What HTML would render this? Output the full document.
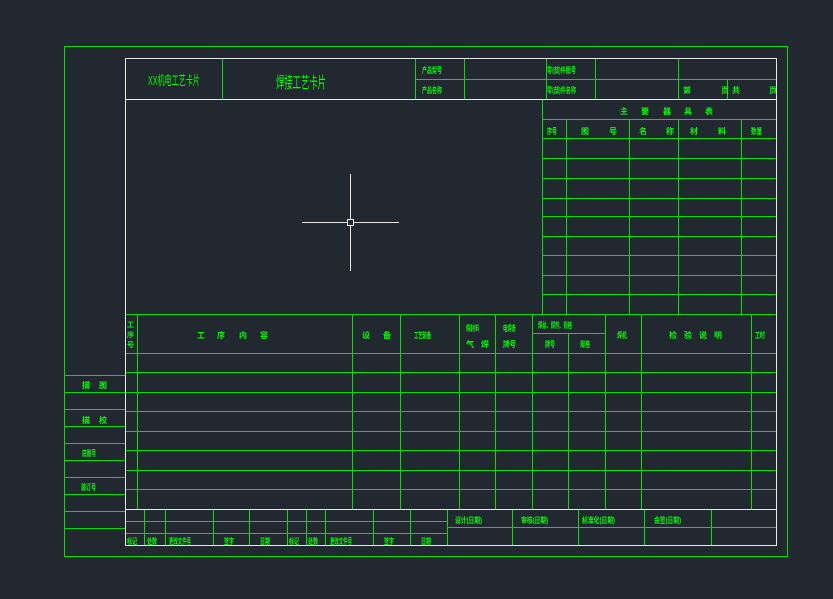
<!DOCTYPE html>
<html><head><meta charset="utf-8"><style>
html,body{margin:0;padding:0;background:#212830;}
svg{display:block}
text{font-family:"Liberation Sans","Noto Sans CJK SC",sans-serif;fill:#00ff00;font-size:8px;font-weight:bold}
</style></head><body>
<svg width="833" height="599" viewBox="0 0 833 599" xmlns="http://www.w3.org/2000/svg">
<rect width="833" height="599" fill="#212830"/>
<g stroke="#00e000" stroke-width="1" fill="none" shape-rendering="crispEdges">
<rect x="64.5" y="46.5" width="723" height="510"/>
<!-- header -->
<path d="M222.5 58V99M415.5 58V99M464.5 58V99M546.5 58V99M595.5 58V99M678.5 58V99M727.5 79V99M415 79.5H776"/>
<!-- right table -->
<path d="M542.5 99V314M542 119.5H776M542 138.5H776M542 158.5H776M542 178.5H776M542 198.5H776M542 216.5H776M542 236.5H776M542 255.5H776M542 275.5H776M542 294.5H776"/>
<path d="M566.5 119V314M629.5 119V314M678.5 119V314M741.5 119V314"/>
<!-- lower table -->
<path d="M125 314.5H776M125 353.5H776M125 372.5H776M125 392.5H776M125 411.5H776M125 431.5H776M125 450.5H776M125 470.5H776M125 489.5H776M532 333.5H605"/>
<path d="M137.5 314V509M352.5 314V509M400.5 314V509M459.5 314V509M495.5 314V509M532.5 314V509M568.5 333V509M605.5 314V509M641.5 314V509M751.5 314V509"/>
<!-- bottom block -->
<path d="M125 521.5H447M125 533.5H447M447 527.5H776"/>
<path d="M144.5 509V545M165.5 509V545M213.5 509V545M249.5 509V545M287.5 509V545M306.5 509V545M325.5 509V545M373.5 509V545M410.5 509V545M447.5 509V545M512.5 509V545M578.5 509V545M644.5 509V545M711.5 509V545"/>
<!-- left strip -->
<path d="M64 375.5H125M64 392.5H125M64 409.5H125M64 426.5H125M64 443.5H125M64 460.5H125M64 477.5H125M64 494.5H125M64 511.5H125M64 528.5H125"/>
</g>
<g stroke="#e8e8e8" stroke-width="1" fill="none" shape-rendering="crispEdges">
<rect x="125.5" y="58.5" width="651" height="487"/>
<path d="M125 99.5H776M125 509.5H776"/>
<!-- crosshair -->
<path d="M302 222.5H347M353 222.5H399M350.5 174V219M350.5 226V271"/>
<rect x="347.5" y="219.5" width="6" height="6"/>
</g>
<text x="148" y="85" style="font-size:13px;font-weight:normal" textLength="52" lengthAdjust="spacingAndGlyphs">XX机电工艺卡片</text>
<text x="276" y="88" style="font-size:16px;font-weight:normal" textLength="50" lengthAdjust="spacingAndGlyphs">焊接工艺卡片</text>
<text x="422" y="73" textLength="20" lengthAdjust="spacingAndGlyphs">产品型号</text>
<text x="422" y="93" textLength="20" lengthAdjust="spacingAndGlyphs">产品名称</text>
<text x="547" y="73" textLength="29" lengthAdjust="spacingAndGlyphs">零(部)件图号</text>
<text x="547" y="93" textLength="29" lengthAdjust="spacingAndGlyphs">零(部)件名称</text>
<text x="683" y="93">第</text><text x="721" y="93">页</text><text x="732" y="93">共</text><text x="769" y="93">页</text>
<text x="620" y="114">主</text><text x="641" y="114">要</text><text x="663" y="114">器</text><text x="684" y="114">具</text><text x="705" y="114">表</text>
<text x="547" y="134" textLength="10" lengthAdjust="spacingAndGlyphs">序号</text>
<text x="581" y="134">图</text><text x="609" y="134">号</text>
<text x="639" y="134">名</text><text x="666" y="134">称</text>
<text x="690" y="134">材</text><text x="718" y="134">料</text>
<text x="751" y="134" textLength="11" lengthAdjust="spacingAndGlyphs">数量</text>
<text x="127" y="327" style="font-size:7px">工</text><text x="127" y="337" style="font-size:7px">序</text><text x="127" y="347" style="font-size:7px">号</text>
<text x="197" y="338">工</text><text x="217" y="338">序</text><text x="239" y="338">内</text><text x="260" y="338">容</text>
<text x="362" y="338">设</text><text x="383" y="338">备</text>
<text x="414" y="338" textLength="17" lengthAdjust="spacingAndGlyphs">工艺装备</text>
<text x="466" y="331" textLength="13" lengthAdjust="spacingAndGlyphs">焊接材料</text>
<text x="466" y="347">气</text><text x="481" y="347">焊</text>
<text x="503" y="331" textLength="13" lengthAdjust="spacingAndGlyphs">电焊条</text>
<text x="503" y="347" textLength="13" lengthAdjust="spacingAndGlyphs">牌号</text>
<text x="538" y="328" textLength="34" lengthAdjust="spacingAndGlyphs">焊丝、焊剂、规格</text>
<text x="545" y="347" textLength="10" lengthAdjust="spacingAndGlyphs">牌号</text>
<text x="580" y="347" textLength="10" lengthAdjust="spacingAndGlyphs">规格</text>
<text x="617" y="338" textLength="10" lengthAdjust="spacingAndGlyphs">焊机</text>
<text x="669" y="338">检</text><text x="684" y="338">验</text><text x="699" y="338">说</text><text x="714" y="338">明</text>
<text x="755" y="338" textLength="10" lengthAdjust="spacingAndGlyphs">工时</text>
<text x="82" y="388">描</text><text x="99" y="388">图</text>
<text x="82" y="423">描</text><text x="99" y="423">校</text>
<text x="82" y="456" textLength="14" lengthAdjust="spacingAndGlyphs">底图号</text>
<text x="81" y="490" textLength="15" lengthAdjust="spacingAndGlyphs">装订号</text>
<text x="127" y="544" textLength="10" lengthAdjust="spacingAndGlyphs">标记</text>
<text x="147" y="544" textLength="10" lengthAdjust="spacingAndGlyphs">处数</text>
<text x="169" y="544" textLength="22" lengthAdjust="spacingAndGlyphs">更改文件号</text>
<text x="224" y="544" textLength="10" lengthAdjust="spacingAndGlyphs">签字</text>
<text x="260" y="544" textLength="10" lengthAdjust="spacingAndGlyphs">日期</text>
<text x="289" y="544" textLength="10" lengthAdjust="spacingAndGlyphs">标记</text>
<text x="308" y="544" textLength="10" lengthAdjust="spacingAndGlyphs">处数</text>
<text x="330" y="544" textLength="22" lengthAdjust="spacingAndGlyphs">更改文件号</text>
<text x="384" y="544" textLength="10" lengthAdjust="spacingAndGlyphs">签字</text>
<text x="421" y="544" textLength="10" lengthAdjust="spacingAndGlyphs">日期</text>
<text x="455" y="523" textLength="27" lengthAdjust="spacingAndGlyphs">设计(日期)</text>
<text x="521" y="523" textLength="27" lengthAdjust="spacingAndGlyphs">审核(日期)</text>
<text x="582" y="523" textLength="33" lengthAdjust="spacingAndGlyphs">标准化(日期)</text>
<text x="654" y="523" textLength="27" lengthAdjust="spacingAndGlyphs">会签(日期)</text>
</svg>
</body></html>
